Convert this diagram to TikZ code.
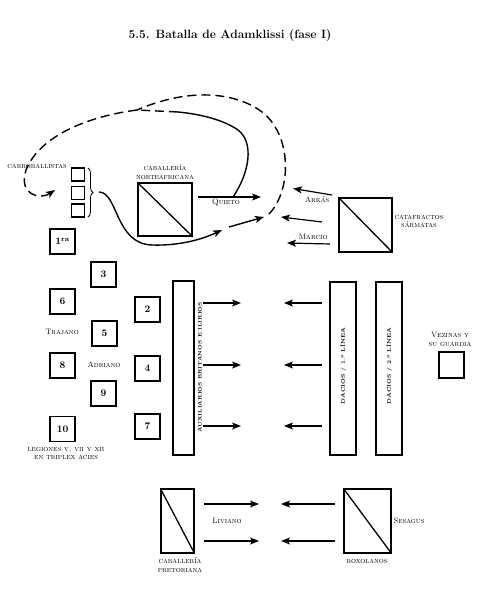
\documentclass[tikz,border=0pt]{standalone}
\usepackage{fontspec}
\usetikzlibrary{arrows.meta,decorations.pathreplacing}
\newcommand{\lblf}{\fontsize{7.8}{8.7}\selectfont\scshape}
\newcommand{\auxf}{\fontsize{5}{6}\selectfont\bfseries\addfontfeature{LetterSpace=31}}
\newcommand{\dacf}{\fontsize{5.2}{6}\selectfont\bfseries\addfontfeature{LetterSpace=38}}
\newcommand{\numf}{\fontsize{10}{12}\selectfont\bfseries}
\begin{document}
\begin{tikzpicture}[x=1pt,y=-1pt,
 box/.style={draw,line width=1.3pt,inner sep=0pt},
 sq/.style={box,minimum width=25pt,minimum height=25pt,font=\numf},
 csq/.style={box,line width=1.1pt,minimum width=13pt,minimum height=13pt},
 arr/.style={line width=1.2pt,-{Stealth[length=9pt,width=7pt,inset=2.2pt]}},
 lbl/.style={font=\lblf,align=center,inner sep=0pt},
 dsh/.style={line width=1.4pt,dash pattern=on 9pt off 5pt},
 crv/.style={line width=1.4pt},
 diag/.style={line width=1.3pt}]
\useasboundingbox (0,0) rectangle (481,594);
% title
\node[font=\fontsize{12}{15}\selectfont\bfseries] (title) at (230,36) {5.5. Batalla de Adamklissi (fase I)};
% carroballistas
\node[lbl] (carrol) at (37,166) {carroballistas};
\node[csq] (c1) at (78,174.5) {};
\node[csq] (c2) at (78,193) {};
\node[csq] (c3) at (78,210.5) {};
\coordinate (bt) at (88,168);
\coordinate (bb) at (88,217);
\draw[line width=0.8pt,decorate,decoration={brace,amplitude=5pt}] (bt) -- (bb);
\coordinate (btip) at (99,192);
% caballeria norteafricana
\node[box,minimum width=54pt,minimum height=53pt] (cn) at (165,209.5) {};
\draw[diag] (cn.north west) -- (cn.south east);
\node[lbl] (cnl) at (165,172) {caballería\\norteafricana};
\coordinate (q1) at (198,197);
\coordinate (q2) at (261,197);
\draw[arr] (q1) -- (q2);
\node[lbl] (ql) at (226,203) {Quieto};
% catafractos
\node[box,minimum width=53pt,minimum height=54pt] (cs) at (365.5,225) {};
\draw[diag] (cs.north west) -- (cs.south east);
\node[lbl] (csl) at (419,221.5) {catafractos\\sármatas};
\coordinate (a1s) at (332,195); \coordinate (a1e) at (293,188.5);
\coordinate (a2s) at (322,222); \coordinate (a2e) at (281,217);
\coordinate (a3s) at (330,244); \coordinate (a3e) at (287,243);
\draw[arr] (a1s) -- (a1e);
\draw[arr] (a2s) -- (a2e);
\draw[arr] (a3s) -- (a3e);
\node[lbl] (arkl) at (317,200) {Arkás};
\node[lbl] (marl) at (313,236.5) {Marcio};
% curves
\draw[crv,-{Stealth[length=9pt,width=7pt,inset=2.2pt]}] (btip) .. controls (118,192) and (115,244) .. (152,245) .. controls (182,246) and (205,238) .. (222,230);
\coordinate (d1) at (229,227); \coordinate (d2) at (264,217);
\draw[arr,line width=1.4pt] (d1) -- (d2);
\coordinate (j) at (137,110);
\draw[dsh] (269,214) .. controls (292,190) and (292,135) .. (262,112) .. controls (240,95) and (195,85) .. (j);
\draw[dsh,-{Stealth[length=9pt,width=7pt,inset=2.2pt]}] (j) .. controls (90,116) and (40,135) .. (26,170) .. controls (18,195) and (40,200) .. (55,190);
\draw[crv] (233,197) .. controls (250,172) and (254,142) .. (238,130) .. controls (224,120) and (200,114) .. (178,112);
\draw[dsh] (178,112) -- (j);
% legions
\node[sq] (l1) at (62.5,241.5) {1\textsuperscript{ra}};
\node[sq] (l3) at (103.5,274.5) {3};
\node[sq] (l6) at (62.5,301.5) {6};
\node[sq] (l2) at (147.5,309.5) {2};
\node[sq] (l5) at (104.5,333.5) {5};
\node[sq] (l8) at (62.5,365.5) {8};
\node[sq] (l4) at (147.5,368.5) {4};
\node[sq] (l9) at (103.5,393.5) {9};
\node[sq] (l10) at (62.5,429) {10};
\node[sq] (l7) at (147.5,426.5) {7};
\node[lbl] (tra) at (62,331.5) {Trajano};
\node[lbl] (adr) at (104,364.5) {Adriano};
\node[lbl] (leg) at (66,453.5) {legiones v, vii y xii\\en triplex acies};
% bars
\node[box,minimum width=21pt,minimum height=174pt] (aux) at (183.5,368) {};
\node[font=\auxf,rotate=90,inner sep=0pt] (auxl) at (200,367.5) {AUXILIARIOS BRITANOS E ILIRIOS};
\node[box,minimum width=26pt,minimum height=173pt] (da1) at (343,368.5) {};
\node[box,minimum width=26pt,minimum height=173pt] (da2) at (389,368.5) {};
\node[font=\dacf,rotate=90,inner sep=0pt] (da1l) at (343,366) {DACIOS / 1.ª LÍNEA};
\node[font=\dacf,rotate=90,inner sep=0pt] (da2l) at (389,366) {DACIOS / 2.ª LÍNEA};
\foreach \yy/\nn in {303/a,365/b,426/c}{
  \coordinate (ar\nn s) at (203,\yy); \coordinate (ar\nn e) at (241,\yy);
  \coordinate (dl\nn s) at (322,\yy); \coordinate (dl\nn e) at (284,\yy);
  \draw[arr] (ar\nn s) -- (ar\nn e);
  \draw[arr] (dl\nn s) -- (dl\nn e);
}
% vezinas
\node[box,minimum width=25pt,minimum height=26pt] (vz) at (451.5,365) {};
\node[lbl] (vzl) at (450,339.5) {Vezinas y\\su guardia};
% bottom
\node[box,minimum width=33pt,minimum height=64pt] (pr) at (177.5,521) {};
\draw[diag] (pr.north west) -- (pr.south east);
\node[lbl] (prl) at (180,565) {caballería\\pretoriana};
\node[box,minimum width=47pt,minimum height=64pt] (rx) at (367.5,521) {};
\draw[diag] (rx.north west) -- (rx.south east);
\node[lbl] (rxl) at (367,561) {roxolanos};
\node[lbl] (livl) at (227,521) {Liviano};
\node[lbl] (sesl) at (409,521) {Sesagus};
\foreach \yy/\nn in {504/a,541/b}{
  \coordinate (pa\nn s) at (204,\yy); \coordinate (pa\nn e) at (259,\yy);
  \coordinate (ra\nn s) at (335,\yy); \coordinate (ra\nn e) at (281,\yy);
  \draw[arr] (pa\nn s) -- (pa\nn e);
  \draw[arr] (ra\nn s) -- (ra\nn e);
}
\end{tikzpicture}
\end{document}
